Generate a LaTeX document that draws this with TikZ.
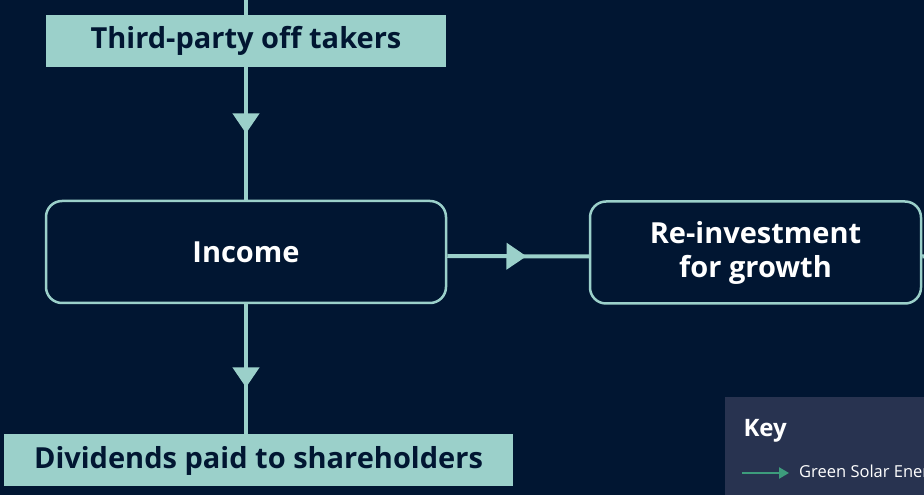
\documentclass[tikz,border=0pt]{standalone}
\usepackage{fontspec}
\setmainfont{Open Sans}
\usetikzlibrary{arrows.meta,decorations.markings}

\definecolor{navy}{HTML}{011632}
\definecolor{mint}{HTML}{9BD0CA}
\definecolor{keybg}{HTML}{283350}
\definecolor{solar}{HTML}{3D9C7C}

\tikzset{
  flow/.style={draw=mint, line width=4pt},
  midarrow/.style={postaction={decorate}, decoration={markings,
      mark=at position #1 with {\arrow{Triangle[width=26pt,length=20pt]}}}},
  tag/.style={fill=mint, text=navy, font=\bfseries\fontsize{29}{33}\selectfont,
      inner sep=0pt, minimum height=52pt},
  stage/.style={draw=mint, line width=2.5pt, rounded corners=16pt, fill=navy,
      text=white, font=\bfseries\fontsize{29}{34}\selectfont, align=center,
      inner sep=0pt, minimum height=102pt}
}

\begin{document}
\begin{tikzpicture}[x=1pt,y=1pt]
        \fill[navy] (0,0) rectangle (924,495);
        \useasboundingbox (0,0) rectangle (924,495);
        \clip (0,0) rectangle (924,495);

        % boxes of the flow
        \node[tag, minimum width=400pt] (takers) at (246,454) {Third-party off takers};
        \node[stage, minimum width=400pt] (income) at (246,243) {Income};
        \node[stage, minimum width=331pt] (reinvest) at (755.5,242.5) {Re-investment\\for growth};
        \node[tag, minimum width=509pt] (dividends) at (258.5,34.5) {Dividends paid to shareholders};
        \coordinate (top) at (246,495);
        \coordinate (out) at (930,239);

        % connectors
        \draw[flow] (top) -- (takers.north);
        \draw[flow, midarrow=0.5] (takers.south) -- (income.north);
        \draw[flow, midarrow=0.56] ([yshift=-4pt]income.east) -- ([yshift=-4pt]reinvest.west);
        \draw[flow] ([yshift=-4pt]reinvest.east) -- (out);
        \draw[flow, midarrow=0.64] (income.south) -- (income.south |- dividends.north);

        % key
        \fill[keybg] (725,0) rectangle (940,98);
        \node[anchor=base west, text=white, font=\bfseries\fontsize{24}{28}\selectfont] (key) at (740,58) {Key};
        \coordinate (ka) at (742,22);
        \coordinate (kb) at (789,22);
        \draw[solar, line width=2.5pt, -{Triangle[width=11pt,length=10pt]}] (ka) -- (kb);
        \node[anchor=west, text=white, font=\fontsize{16.5}{20}\selectfont, inner sep=0pt] (green) at (799,22) {Green Solar Energy};
    \end{tikzpicture}
\end{document}
